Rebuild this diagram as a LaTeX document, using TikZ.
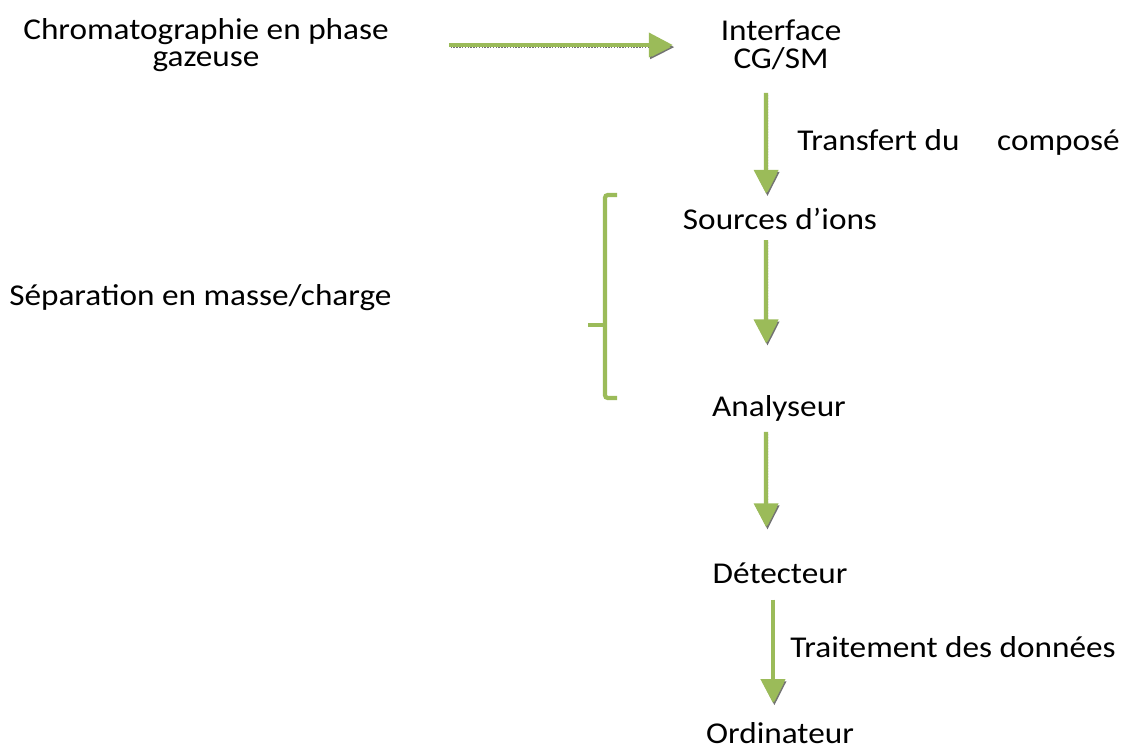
\documentclass[tikz,border=0pt]{standalone}
\usepackage{fontspec}
\setmainfont[FakeStretch=1.1]{Carlito}
\usetikzlibrary{arrows.meta}

\definecolor{olive}{HTML}{9BBB59}
\tikzset{
  txt/.style={font=\fontsize{21.5}{19.6}\selectfont, inner sep=0pt, align=center},
  garrow/.style={draw=olive, line width=3pt,
    -{Triangle[width=17pt,length=17pt,fill=olive]},
    preaction={draw=black!55, line width=1pt, dash pattern=on 1pt off 1pt,
      transform canvas={xshift=1pt,yshift=-1.5pt}}},
  gbrack/.style={draw=olive, line width=3pt, rounded corners=2pt}
}

\begin{document}
\begin{tikzpicture}[x=0.025cm, y=-0.025cm]
\useasboundingbox (0,0) rectangle (1123,752);
%texts
\node[txt] (chrom) at (206,45) {Chromatographie en phase\\gazeuse};
\node[txt] (iface) at (781,45) {Interface\\CG/SM};
\node[txt] (src) at (780,219) {Sources d'ions};
\node[txt] (anal) at (779,408) {Analyseur};
\node[txt] (det) at (780,573) {Détecteur};
\node[txt] (ordi) at (780,733) {Ordinateur};
\node[txt, anchor=west] (sep) at (9,298) {Séparation en masse/charge};
\node[txt, anchor=west] (transf) at (797,142) {Transfert du\quad\ composé};
\node[txt, anchor=west] (trait) at (790,647) {Traitement des données};
%arrows
\draw[garrow] ([xshift=173pt]chrom.center) -- ([xshift=-77pt]iface.center);
\draw[garrow] ([xshift=-10.6pt,yshift=-34pt]iface.center) -- ([xshift=-9.9pt,yshift=18pt]src.center);
\draw[garrow] ([xshift=-9.9pt,yshift=-15pt]src.center) -- ([xshift=-9.2pt,yshift=46pt]anal.center);
\draw[garrow] ([xshift=-9.2pt,yshift=-17pt]anal.center) -- ([xshift=-9.9pt,yshift=32.6pt]det.center);
\draw[garrow] ([xshift=-5pt,yshift=-19pt]det.center) -- ([xshift=-5pt,yshift=21.3pt]ordi.center);
%bracket
\draw[gbrack] (617,195) -- (605,195) -- (605,398) -- (617,398);
\draw[gbrack] (605,325) -- (588,325);
\end{tikzpicture}
\end{document}
